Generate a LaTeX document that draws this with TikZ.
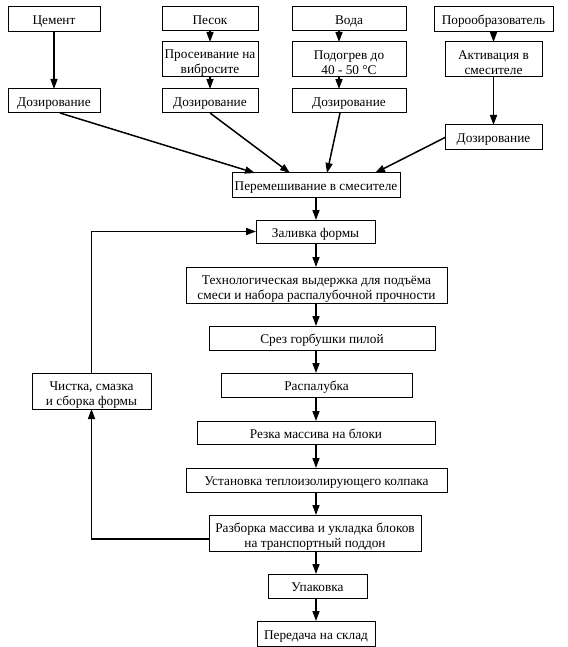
\documentclass[tikz,border=0pt]{standalone}
\usepackage{fontspec}
\setmainfont{Liberation Serif}
\usetikzlibrary{arrows.meta}
\newcommand\mybox[7][]{%
  \node[box,#1,anchor=north west,minimum width={#5-#3},minimum height={#6-#4}] (#2) at (#3,#4) {#7};}
\newcommand\tallstrut{\rule{0pt}{16pt}}
\begin{document}
\begin{tikzpicture}[x=1pt,y=-1pt,
  box/.style={draw,line width=1pt,inner sep=0pt,outer sep=0pt,align=center,
    font=\fontsize{13.3}{15}\selectfont},
  one/.style={text height=13pt,text depth=2pt},
  arr/.style={line width=1.5pt,-{Triangle[length=10pt,width=7pt]}}]
\useasboundingbox (0,0) rectangle (567,647);
% top row
\mybox[one]{cem}{8}{7}{100}{32}{Цемент}
\mybox[one]{pesok}{162}{7}{258}{31}{Песок}
\mybox{pros}{162}{42}{258}{77}{\tallstrut Просеивание на\\вибросите}
\mybox[one]{dz1}{8}{89}{100}{113}{Дозирование}
\mybox[one]{dz2}{162}{89}{258}{113}{Дозирование}
\mybox[one]{voda}{292}{7}{406}{31}{Вода}
\mybox{podogr}{292}{42}{406}{77}{\tallstrut Подогрев до\\40 - 50 °С}
\mybox[one]{dz3}{292}{89}{406}{113}{Дозирование}
\mybox[one]{poro}{434}{7}{553}{32}{Порообразователь}
\mybox{akt}{445}{42}{542}{77}{\tallstrut Активация в\\смесителе}
\mybox[one]{dz4}{445}{125}{542}{150}{Дозирование}
% main column
\mybox[one]{mix}{232}{173}{400}{197}{Перемешивание в смесителе}
\mybox[one]{zal}{256}{220}{375}{243}{Заливка формы}
\mybox{tech}{186}{267}{447}{303}{\tallstrut Технологическая выдержка для подъёма\\смеси и набора распалубочной прочности}
\mybox[one]{srez}{209}{326}{435}{350}{Срез горбушки пилой}
\mybox[one]{rasp}{221}{373}{412}{397}{Распалубка}
\mybox[one]{rezka}{197}{421}{435}{444}{Резка массива на блоки}
\mybox[one]{ustan}{186}{468}{447}{492}{Установка теплоизолирующего колпака}
\mybox{razb}{209}{515}{421}{551}{\tallstrut Разборка массива и укладка блоков\\на транспортный поддон}
\mybox[one]{upak}{268}{574}{367}{598}{Упаковка}
\mybox[one]{pered}{257}{621}{375}{646}{Передача на склад}
\mybox{chist}{32}{373}{151}{409}{\tallstrut Чистка, смазка\\и сборка формы}
% top connectors
\draw[arr] (cem) -- (dz1);
\draw[arr] (pesok) -- (pros);
\draw[arr] (pros) -- (dz2);
\draw[arr] ([xshift=-10pt]voda.south) -- ([xshift=-10pt]podogr.north);
\draw[arr] ([xshift=-10pt]podogr.south) -- ([xshift=-10pt]dz3.north);
\draw[arr] (poro) -- (akt);
\draw[arr] (akt) -- (dz4);
% into mixer
\draw[arr] ([xshift=6pt]dz1.south) -- ([xshift=-61pt]mix.north);
\draw[arr] (dz2.south) -- ([xshift=-26pt]mix.north);
\draw[arr] ([xshift=-9pt]dz3.south) -- ([xshift=11pt]mix.north);
\draw[arr] (dz4.west) -- ([xshift=59pt]mix.north);
% main chain
\draw[arr] (mix) -- (mix |- zal.north);
\draw[arr] (mix |- zal.south) -- (mix |- tech.north);
\draw[arr] (mix |- tech.south) -- (mix |- srez.north);
\draw[arr] (mix |- srez.south) -- (mix |- rasp.north);
\draw[arr] (mix |- rasp.south) -- (mix |- rezka.north);
\draw[arr] (mix |- rezka.south) -- (mix |- ustan.north);
\draw[arr] (mix |- ustan.south) -- (mix |- razb.north);
\draw[arr] (mix |- razb.south) -- (mix |- upak.north);
\draw[arr] (mix |- upak.south) -- (mix |- pered.north);
% loop
\draw[arr] ([yshift=-6pt]razb.west) -| (chist.south);
\draw[arr] (chist.north) |- (zal.west);
\end{tikzpicture}
\end{document}
